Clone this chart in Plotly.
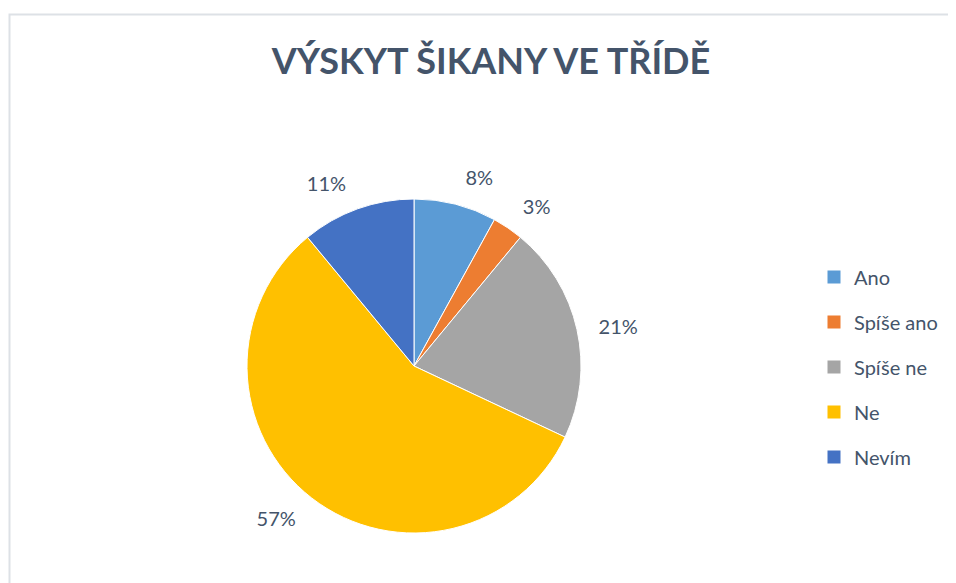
import plotly.graph_objects as go

categories = ["Ano", "Spíše ano", "Spíše ne", "Ne", "Nevím"]
values = [8, 3, 21, 57, 11]
colors = ["#5b9bd5", "#ed7d31", "#a5a5a5", "#ffc000", "#4472c4"]
title_text = "VÝSKYT ŠIKANY VE TŘÍDĚ"

W, H = 956, 583
OFF = 8  # page body margin offset
FONT = "Lato, 'Noto Sans', sans-serif"
TXT = "#44546a"

cx, cy, R = 414 - OFF, 366 - OFF, 167
R_LBL = 183


def dom(r):
    return dict(x=[(cx - r) / W, (cx + r) / W], y=[1 - (cy + r) / H, 1 - (cy - r) / H])


fig = go.Figure()

# visible pie
fig.add_trace(go.Pie(
    labels=categories,
    values=values,
    sort=False,
    direction="clockwise",
    rotation=0,
    marker=dict(colors=colors, line=dict(color="white", width=1)),
    textinfo="none",
    showlegend=False,
    hoverinfo="label+percent",
    domain=dom(R),
))

# transparent slightly larger pie only carrying the outside percentage labels
fig.add_trace(go.Pie(
    labels=categories,
    values=values,
    sort=False,
    direction="clockwise",
    rotation=0,
    marker=dict(colors=["rgba(0,0,0,0)"] * len(values), line=dict(width=0)),
    textinfo="percent",
    textposition="outside",
    textfont=dict(family=FONT, size=20, color=TXT),
    showlegend=False,
    hoverinfo="skip",
    domain=dom(R_LBL),
))

# legend entries (square swatches) with wider spacing
for name, col in zip(categories, colors):
    fig.add_trace(go.Scatter(
        x=[None], y=[None], mode="markers",
        marker=dict(symbol="square", size=13, color=col),
        name=name, legendgroup=name, showlegend=True,
    ))

fig.update_layout(
    width=W, height=H,
    margin=dict(l=0, r=0, t=0, b=0),
    paper_bgcolor="white",
    plot_bgcolor="white",
    xaxis=dict(visible=False),
    yaxis=dict(visible=False),
    title=dict(
        text="<b>" + title_text + "</b>",
        x=(491 - OFF) / W, xanchor="center",
        y=1 - (61 - OFF) / H, yanchor="middle",
        font=dict(family=FONT, size=36, color=TXT),
    ),
    legend=dict(
        x=(814 - OFF) / W, xanchor="left",
        y=1 - (367 - OFF) / H, yanchor="middle",
        font=dict(family=FONT, size=20, color=TXT),
        tracegroupgap=16,
        traceorder="grouped",
        bgcolor="rgba(0,0,0,0)",
    ),
    shapes=[dict(
        type="rect", xref="paper", yref="paper",
        x0=(9.5 - OFF) / W, x1=1.02, y0=-0.05, y1=1 - (14.5 - OFF) / H,
        line=dict(color="#dde1e6", width=2),
        fillcolor="rgba(0,0,0,0)",
    )],
)

fig.write_html("out.html")
